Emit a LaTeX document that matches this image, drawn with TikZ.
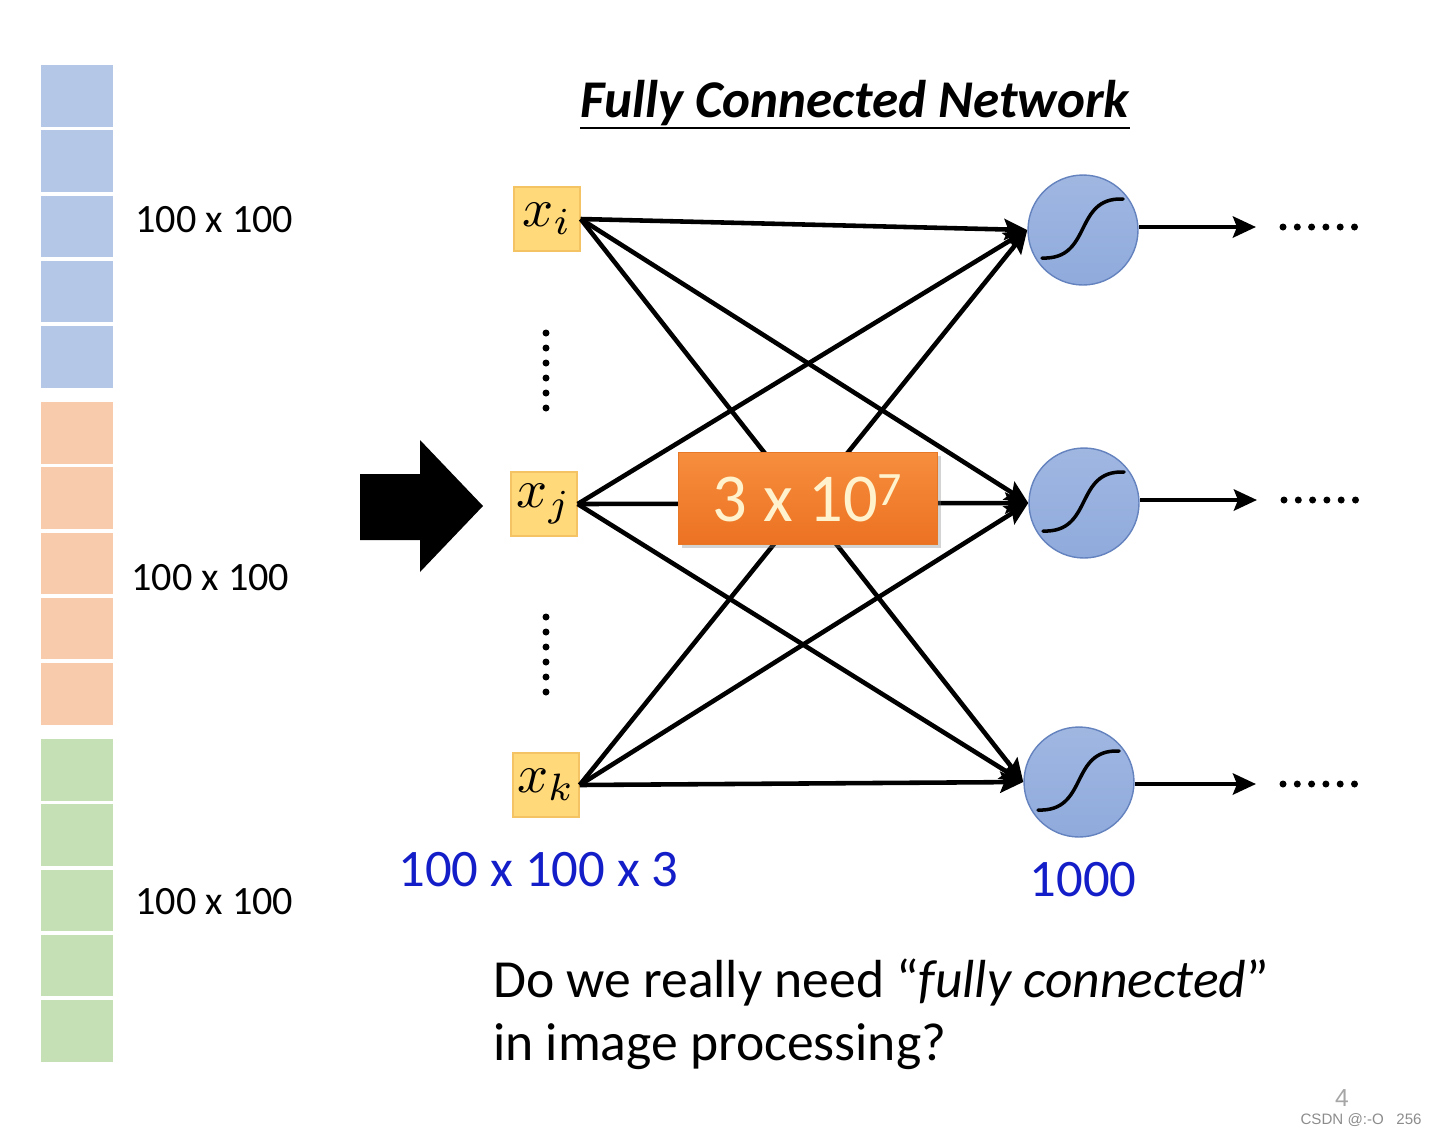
\documentclass[tikz,border=0pt]{standalone}
\usepackage{fontspec}
\setmainfont{Carlito}
\newfontfamily\wmfont{Liberation Sans}
\usetikzlibrary{arrows.meta,shadows,calc}

\begin{document}
\begin{tikzpicture}[x=0.02cm,y=-0.02cm]
    % Colors
    \definecolor{cellblue}{RGB}{180,199,231}
    \definecolor{cellorange}{RGB}{248,203,173}
    \definecolor{cellgreen}{RGB}{197,224,180}
    \definecolor{inputfill}{RGB}{255,217,122}
    \definecolor{inputdraw}{RGB}{244,196,100}
    \definecolor{sigfill}{RGB}{143,170,220}
    \definecolor{sigdraw}{RGB}{100,130,190}
    \definecolor{labelblue}{RGB}{20,30,200}
    \definecolor{weighttext}{RGB}{255,242,204}

    % Styles
    \tikzstyle{label text}=[font=\fontsize{22.9}{26}\selectfont,inner sep=0pt]
    \tikzstyle{input box}=[draw=inputdraw,fill=inputfill,line width=0.8pt,
      minimum width=1.32cm,minimum height=1.28cm,inner sep=0pt]
    \tikzstyle{sigmoid}=[circle,draw=sigdraw,line width=0.8pt,
      top color=sigfill!85!white,bottom color=sigfill,
      minimum size=2.2cm,inner sep=0pt]
    \tikzstyle{sig curve}=[line width=2pt,line cap=round]
    \tikzstyle{conn}=[line width=2.6pt,
      -{Stealth[length=0.46cm,width=0.42cm,inset=0.08cm]}]
    \tikzstyle{weight box}=[top color={rgb,255:red,246;green,142;blue,62},
      bottom color={rgb,255:red,236;green,114;blue,34},
      draw={rgb,255:red,230;green,120;blue,40},
      minimum width=5.18cm,minimum height=1.84cm,inner sep=0pt,
      text=weighttext,font=\fontsize{39}{40}\selectfont,
      drop shadow={opacity=0.35,shadow xshift=2pt,shadow yshift=-2pt}]
    \tikzstyle{count text}=[text=labelblue,font=\fontsize{30}{34}\selectfont,
      inner sep=0pt]

    % The image as three stacked channels
    \foreach \col/\top in {cellblue/65,cellorange/402,cellgreen/739}
      \foreach \k in {0,...,4}
        \fill[\col] (41,{\top+65.3*\k}) rectangle (113,{\top+65.3*\k+61.5});

    \node[label text,anchor=base west] (chR) at (135,232) {100 x 100};
    \node[label text,anchor=base west] (chG) at (131,590) {100 x 100};
    \node[label text,anchor=base west] (chB) at (135,914) {100 x 100};

    % big arrow
    \fill (360,474) -- (420,474) -- (420,440) -- (483,506) -- (420,572)
      -- (420,540) -- (360,540) -- cycle;

    % Title
    \node[font=\fontsize{30.2}{34}\selectfont\bfseries\itshape,inner sep=0pt]
      (title) at (855,103) {Fully Connected Network};
    \draw[line width=1.2pt] (580,128) -- (1130,128);

    % Inputs
    \node[input box] (xi) at (547,219) {\scalebox{3.1}{$x_i$}};
    \node[input box] (xj) at (544,504) {\scalebox{3.1}{$x_j$}};
    \node[input box] (xk) at (546,785) {\scalebox{3.1}{$x_k$}};

    \foreach \k in {0,...,5} {
      \fill (546,{333+15*\k}) circle (0.07cm);
      \fill (546,{617+15*\k}) circle (0.07cm);
    }

    % Neurons
    \node[sigmoid] (s1) at (1083,230) {};
    \node[sigmoid] (s2) at (1084,503) {};
    \node[sigmoid] (s3) at (1079,782) {};

    \foreach \s in {s1,s2,s3}
      \draw[sig curve,shift={(\s.center)}]
        (-41,28) .. controls (10,30) and (-10,-33) .. (40,-31);

    % all the weights
    \foreach \a in {xi,xj,xk}
      \foreach \b in {s1,s2,s3}
        \draw[conn] (\a.east) -- (\b.west);

    \node[weight box] (w) at (808,498) {3 x 10\textsuperscript{7}};

    % outputs
    \coordinate (o1) at (1256,227);
    \coordinate (o2) at (1257,500);
    \coordinate (o3) at (1256,784);
    \foreach \s/\o in {s1/o1,s2/o2,s3/o3} {
      \draw[conn] (\s.east |- \o) -- (\o);
      \foreach \k in {0,...,5}
        \fill ($(\o)+({27+14.3*\k},0)$) circle (0.07cm);
    }

    \node[count text,anchor=base west] (nin) at (398,886) {100 x 100 x 3};
    \node[count text,anchor=base] (nout) at (1083,896) {1000};

    % Question
    \node[font=\fontsize{30.5}{35.3}\selectfont,anchor=base west,align=left,
      inner sep=0pt] (q) at (493,1060)
      {Do we really need “\textit{fully connected}”\\in image processing?};

    % watermark
    \node[text=black!35,font=\wmfont\fontsize{14}{14}\selectfont,inner sep=0pt,
      anchor=base] (pg) at (1342,1106) {4};
    \node[text=black!45,font=\wmfont\fontsize{8.6}{9}\selectfont,anchor=base east,
      inner sep=0pt] (wm) at (1422,1124) {CSDN @:-O \ \ 256};

    \useasboundingbox (0,0) rectangle (1438,1134);
\end{tikzpicture}
\end{document}
